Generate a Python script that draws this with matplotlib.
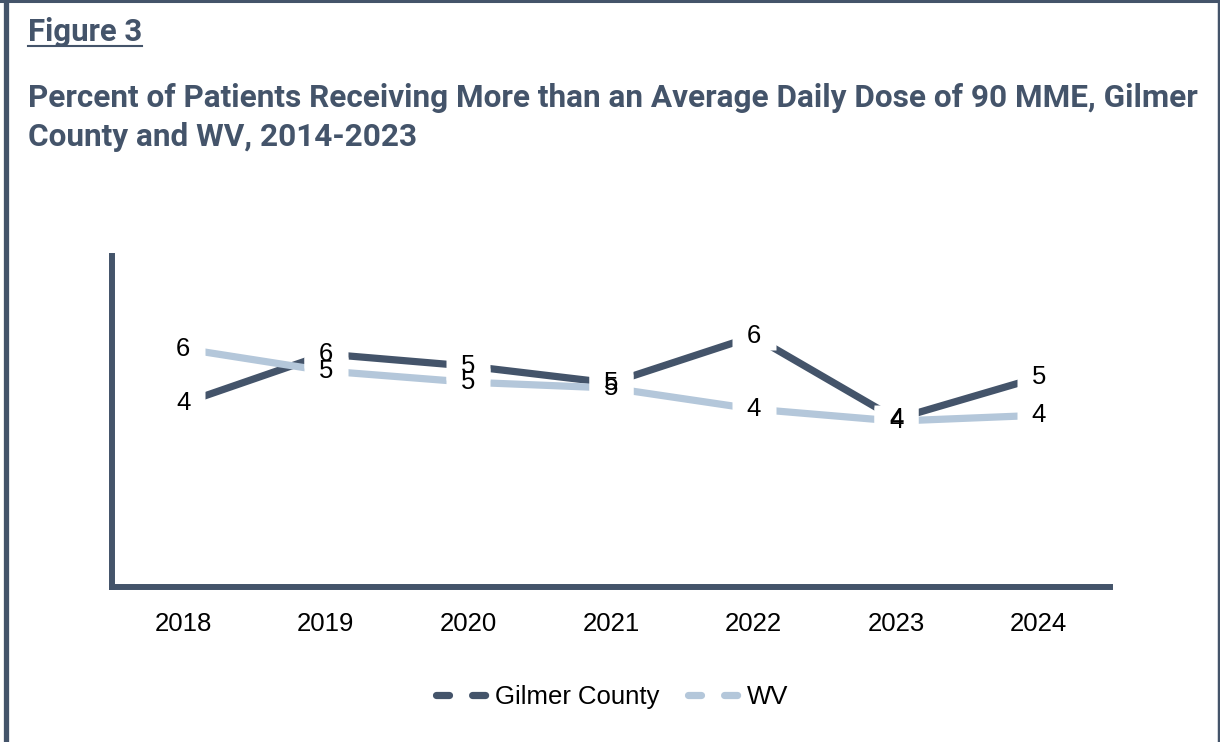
import matplotlib
matplotlib.use('Agg')
import matplotlib.pyplot as plt
from matplotlib.path import Path
from matplotlib.lines import Line2D
import numpy as np

# ---- data ----
years = ['2018', '2019', '2020', '2021', '2022', '2023', '2024']
gilmer = [4.44, 5.63, 5.34, 4.93, 6.06, 4.06, 5.07]
wv = [5.76, 5.22, 4.95, 4.81, 4.30, 4.01, 4.15]
series_names = ['Gilmer County', 'WV']
fig_label = 'Figure 3'
title_lines = ['Percent of Patients Receiving More than an Average Daily Dose of 90 MME, Gilmer',
               'County and WV, 2014-2023']

DARK = '#44546A'
LIGHT = '#B4C7DA'
W, H = 1220, 742
FONT = 'Liberation Sans'
TFONT = 'Roboto'
FS = 18.5

fig = plt.figure(figsize=(W / 100, H / 100), dpi=100)

ax = fig.add_axes([112 / W, 1 - 587 / H, (1110 - 112) / W, (587 - 256) / H])
x = np.arange(len(years))
ax.set_xlim(-0.5, len(years) - 0.5)
ax.set_ylim(0, 8)

ax.plot(x, gilmer, color=DARK, lw=5.2, solid_capstyle='butt', zorder=2, clip_on=False)
ax.plot(x, wv, color=LIGHT, lw=5.2, solid_capstyle='butt', zorder=2.1, clip_on=False)

# white label boxes (data labels occlude the lines)
rect = Path([(-1, -0.64), (1, -0.64), (1, 0.64), (-1, 0.64), (-1, -0.64)],
            [Path.MOVETO, Path.LINETO, Path.LINETO, Path.LINETO, Path.CLOSEPOLY])
for vals in (gilmer, wv):
    ax.plot(x, vals, ls='none', marker=rect, ms=31.5, mfc='white', mec='none',
            zorder=3, clip_on=False)
for vals in (gilmer, wv):
    for xi, v in zip(x, vals):
        ax.text(xi, v, f'{v:.0f}', ha='center', va='center', fontsize=FS,
                family=FONT, color='black', zorder=4)

for s in ('top', 'right'):
    ax.spines[s].set_visible(False)
for s in ('left', 'bottom'):
    ax.spines[s].set_color(DARK)
    ax.spines[s].set_linewidth(4.3)
ax.set_yticks([])
ax.set_xticks(x, years)
ax.tick_params(axis='x', length=0, pad=18, labelsize=FS)
for lab in ax.get_xticklabels():
    lab.set_family(FONT)

# legend
h1 = Line2D([], [], color=DARK, lw=5.2, linestyle=(0, (1.8, 3.2)), dash_capstyle='round')
h2 = Line2D([], [], color=LIGHT, lw=5.2, linestyle=(0, (1.8, 3.2)), dash_capstyle='round')
leg = fig.legend([h1, h2], series_names, loc='center', bbox_to_anchor=(612 / W, 1 - 697 / H),
                 ncol=2, frameon=False, handlelength=2.2, handletextpad=0.1,
                 columnspacing=1.1, prop={'family': FONT, 'size': FS})

# titles
t1 = fig.text(28 / W, 1 - 41 / H, fig_label, ha='left', va='baseline', fontsize=20,
              fontweight='bold', family=TFONT, color=DARK)
t2 = fig.text(28 / W, 1 - 107 / H, title_lines[0], ha='left', va='baseline', fontsize=22,
              fontweight='bold', family=TFONT, color=DARK)
t3 = fig.text(28 / W, 1 - 146 / H, title_lines[1], ha='left', va='baseline', fontsize=22,
              fontweight='bold', family=TFONT, color=DARK)

fig.canvas.draw()
r = fig.canvas.get_renderer()
# fit widths to the reference layout
s1 = 114 / t1.get_window_extent(r).width
t1.set_fontsize(20 * s1)
s2 = 1167 / t2.get_window_extent(r).width
t2.set_fontsize(22 * s2)
t3.set_fontsize(22 * s2)
fig.canvas.draw()
bb = t1.get_window_extent(r)
fig.add_artist(Line2D([bb.x0, bb.x1], [H - 46, H - 46], transform=None,
                      color=DARK, lw=1.5))

# frame
fig.add_artist(Line2D([5.5 / W, 5.5 / W], [0, 1], transform=fig.transFigure, color=DARK, lw=3.8))
fig.add_artist(Line2D([0, 1], [1 - 1 / H, 1 - 1 / H], transform=fig.transFigure, color=DARK, lw=2.2))
fig.add_artist(Line2D([1 - 1.5 / W, 1 - 1.5 / W], [0, 1], transform=fig.transFigure, color=DARK, lw=2.5))

fig.savefig('out.png', dpi=100, facecolor='white')
